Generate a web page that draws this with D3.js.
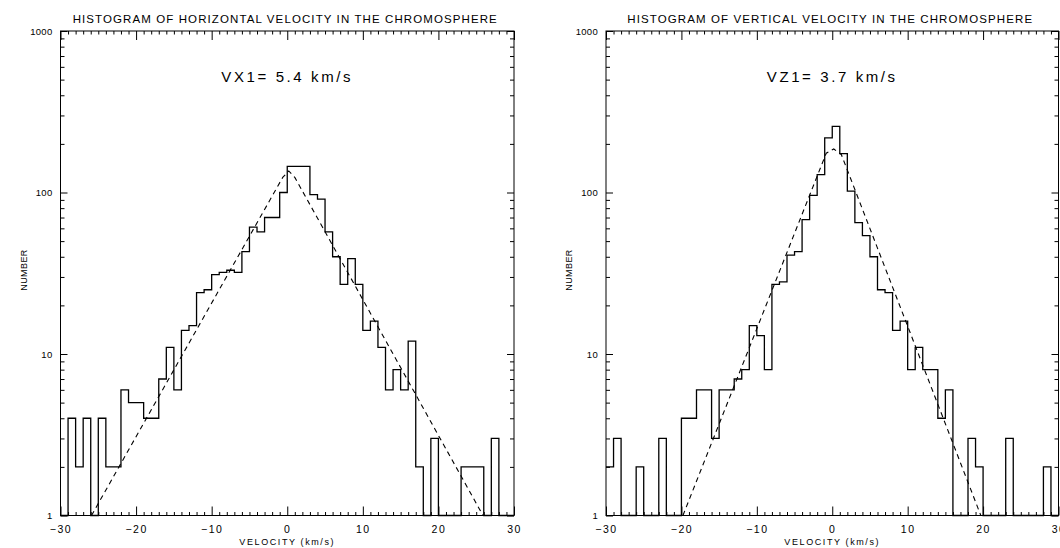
<!DOCTYPE html>
<html>
<head>
<meta charset="utf-8">
<script src="https://cdn.jsdelivr.net/npm/d3@7"></script>
<style>
  body { margin: 0; background: #fff; }
  text { font-family: "Liberation Sans", Arial, sans-serif; fill: #000; }
</style>
</head>
<body>
<svg id="chart" width="1060" height="548"></svg>
<script>
// ---------- data ----------
const binStarts = [-30,-29,-28,-27,-26,-25,-24,-23,-22,-21,-20,-19,-18,-17,-16,-15,-14,-13,-12,-11,
                   -10,-9,-8,-7,-6,-5,-4,-3,-2,-1,0,1,2,3,4,5,6,7,8,9,
                   10,11,12,13,14,15,16,17,18,19,20,21,22,23,24,25,26,27,28,29];
const binEnd = 30;

const horizontalCounts = [0,4,2,4,0,4,2,2,6,5, 5,4,4,7,11,6,14,15,24,25,
                          31,32,33,32,43,61,57,70,70,100, 145,145,145,97,91,57,40,27,39,27,
                          14,16,11,6,8,6,12,2,0,3, 0,0,0,2,2,2,0,3,0,0];
const verticalCounts   = [2,3,0,0,2,0,0,3,0,0, 4,4,6,6,3,6,6,7,8,15,
                          13,8,27,28,41,43,68,96,129,218, 257,174,102,65,54,40,25,24,14,16,
                          8,11,8,8,4,6,0,0,3,2, 0,0,0,3,0,0,0,0,2,0];

const horizontalFitV = [-25.9, -0.6, 0.2, 1.0, 25.9];
const horizontalFitN = [1, 124, 136, 124, 1];
const verticalFitV   = [-19.8, -0.8, 0.2, 1.2, 19.7];
const verticalFitN   = [1, 175, 186, 172, 1];

const xMajorTicks = [-30, -20, -10, 0, 10, 20, 30];
const yMajorTicks = [1, 10, 100, 1000];
const yTickLabels = ["1", "10", "100", "1000"];

const titles = ["HISTOGRAM OF HORIZONTAL VELOCITY IN THE CHROMOSPHERE",
                "HISTOGRAM OF VERTICAL VELOCITY IN THE CHROMOSPHERE"];
const annotations = ["VX1= 5.4 km/s", "VZ1= 3.7 km/s"];
const xAxisLabel = "VELOCITY  (km/s)";
const yAxisLabel = "NUMBER";

// ---------- drawing ----------
const svg = d3.select("#chart");
const TOP = 31, BOTTOM = 515.5;

const panels = [
  { x0: 60.5, x1: 514,   counts: horizontalCounts, fitV: horizontalFitV, fitN: horizontalFitN, title: titles[0], note: annotations[0] },
  { x0: 606,  x1: 1058.5, counts: verticalCounts,  fitV: verticalFitV,   fitN: verticalFitN,   title: titles[1], note: annotations[1] }
];

const minorX = binStarts.filter(v => v % 10 !== 0);
const minorY = [];
[1, 10, 100].forEach(dec => [2,3,4,5,6,7,8,9].forEach(m => minorY.push(dec * m)));

function fmtMinus(d) { return d < 0 ? "\u2212" + Math.abs(d) : String(d); }

function cleanAxis(g, fontSize, spacing) {
  g.select(".domain").remove();
  g.selectAll(".tick line").attr("stroke", "#000").attr("stroke-width", 1);
  g.selectAll(".tick text").attr("fill", "#000")
    .style("font-size", fontSize + "px")
    .style("letter-spacing", spacing + "px")
    .style("font-family", "'Liberation Sans', Arial, sans-serif");
}

panels.forEach(p => {
  const x = d3.scaleLinear().domain([-30, 30]).range([p.x0, p.x1]);
  const y = d3.scaleLog().domain([1, 1000]).range([BOTTOM, TOP]);
  const g = svg.append("g");
  const cx = (p.x0 + p.x1) / 2;

  // frame
  g.append("rect")
    .attr("x", p.x0).attr("y", TOP)
    .attr("width", p.x1 - p.x0).attr("height", BOTTOM - TOP)
    .attr("fill", "none").attr("stroke", "#000").attr("stroke-width", 1);

  // bottom axis: major with labels, minor without
  g.append("g").attr("transform", `translate(0,${BOTTOM})`)
    .call(d3.axisBottom(x).tickValues(xMajorTicks).tickSize(-9).tickPadding(10).tickFormat(fmtMinus))
    .call(a => cleanAxis(a, 10.5, 1.5));
  g.append("g").attr("transform", `translate(0,${BOTTOM})`)
    .call(d3.axisBottom(x).tickValues(minorX).tickSize(-3.5).tickFormat(""))
    .call(a => cleanAxis(a, 10, 0));
  // top axis
  g.append("g").attr("transform", `translate(0,${TOP})`)
    .call(d3.axisTop(x).tickValues(xMajorTicks).tickSize(-9).tickFormat(""))
    .call(a => cleanAxis(a, 10, 0));
  g.append("g").attr("transform", `translate(0,${TOP})`)
    .call(d3.axisTop(x).tickValues(minorX).tickSize(-3.5).tickFormat(""))
    .call(a => cleanAxis(a, 10, 0));
  // left axis
  g.append("g").attr("transform", `translate(${p.x0},0)`)
    .call(d3.axisLeft(y).tickValues(yMajorTicks).tickSize(-7).tickPadding(8)
      .tickFormat((d, i) => yTickLabels[i]))
    .call(a => cleanAxis(a, 9.5, 0.3));
  g.append("g").attr("transform", `translate(${p.x0},0)`)
    .call(d3.axisLeft(y).tickValues(minorY).tickSize(-4).tickFormat(""))
    .call(a => cleanAxis(a, 9, 0));
  // right axis
  g.append("g").attr("transform", `translate(${p.x1},0)`)
    .call(d3.axisRight(y).tickValues(yMajorTicks).tickSize(-7).tickFormat(""))
    .call(a => cleanAxis(a, 9, 0));
  g.append("g").attr("transform", `translate(${p.x1},0)`)
    .call(d3.axisRight(y).tickValues(minorY).tickSize(-4).tickFormat(""))
    .call(a => cleanAxis(a, 9, 0));

  // histogram (step)
  const pts = binStarts.map((v, i) => [v, Math.max(p.counts[i], 1)]);
  pts.push([binEnd, Math.max(p.counts[p.counts.length - 1], 1)]);
  const stepLine = d3.line().x(d => x(d[0])).y(d => y(d[1])).curve(d3.curveStepAfter);
  g.append("path").attr("d", stepLine(pts))
    .attr("fill", "none").attr("stroke", "#000").attr("stroke-width", 1.3)
    .attr("stroke-linejoin", "miter");

  // exponential fit (dashed, straight in log space)
  const fitPts = p.fitV.map((v, i) => [v, p.fitN[i]]);
  const fitLine = d3.line().x(d => x(d[0])).y(d => y(d[1])).curve(d3.curveLinear);
  g.append("path").attr("d", fitLine(fitPts))
    .attr("fill", "none").attr("stroke", "#000").attr("stroke-width", 1.1)
    .attr("stroke-dasharray", "5,4");

  // title
  g.append("text").attr("x", cx - 2).attr("y", 23).attr("text-anchor", "middle")
    .style("font-size", "11.5px").style("letter-spacing", "1.1px").text(p.title);
  // annotation
  g.append("text").attr("x", cx).attr("y", 82).attr("text-anchor", "middle")
    .style("font-size", "15px").style("letter-spacing", "2.6px").text(p.note);
  // x label
  g.append("text").attr("x", cx).attr("y", 545).attr("text-anchor", "middle")
    .style("font-size", "9px").style("letter-spacing", "1.6px").text(xAxisLabel);
  // y label
  g.append("text").attr("transform", `translate(${p.x0 - 34},270) rotate(-90)`)
    .attr("text-anchor", "middle")
    .style("font-size", "9px").style("letter-spacing", "0.4px").text(yAxisLabel);
});
</script>
</body>
</html>
